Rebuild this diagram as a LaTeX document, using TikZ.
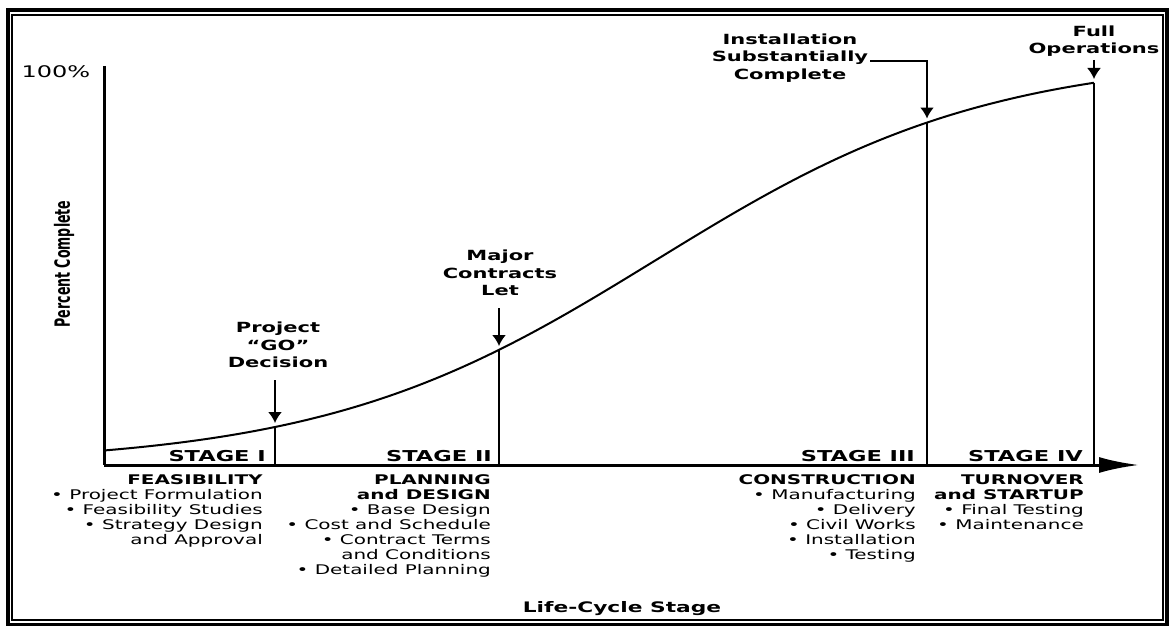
\documentclass[tikz,border=0pt]{standalone}
\usepackage{fontspec}
\setmainfont{DejaVu Sans}[FakeStretch=1.5]
\newfontfamily\condfont{DejaVu Sans}[FakeStretch=0.6]
\usetikzlibrary{arrows.meta}

\begin{document}
\begin{tikzpicture}[x=1pt,y=-1pt,
	axis/.style ={line width=3pt},
	stageline/.style ={line width=2pt},
	evarrow/.style ={line width=1.8pt, -{Latex[length=11pt,width=14pt]}, shorten >=4pt},
	stagelbl/.style ={anchor=base east, font=\bfseries\fontsize{15}{15}\selectfont, inner sep=0pt},
	desc/.style ={anchor=north east, align=right, font=\fontsize{13.3}{15}\selectfont, inner sep=0pt},
	evlbl/.style ={align=center, font=\bfseries\fontsize{14}{17.5}\selectfont, inner sep=2pt}]
		\useasboundingbox (0,0) rectangle (1170,626);
		% double frame
		\draw[line width=4pt] (8,10) rectangle (1167,624.5);
		\draw[line width=2pt] (12,15) rectangle (1163,620);
		% axes
		\coordinate (o) at (104,465);
		\coordinate (ytop) at (104,66);
		\coordinate (xend) at (1139,465);
		\draw[axis] (ytop) -- (o);
		\draw[axis,-{Latex[length=40pt,width=16pt]}] (o) -- (xend);
		\node[font=\fontsize{16}{16}\selectfont] (ymax) at (56,72) {100\%};
		\node[rotate=90, font=\condfont\bfseries\fontsize{21}{21}\selectfont] (ylbl) at (64,264) {Percent Complete};
		\node[font=\bfseries\fontsize{14.5}{17}\selectfont] (xlbl) at (622,609) {Life-Cycle Stage};
		% s-curve (logistic)
		\draw[line width=2pt] plot[domain=104:1094, samples=90, smooth] (\x, {465-410/(1+exp(-(\x-656)/167))});
		\coordinate (cGo) at (275,427);
		\coordinate (cMc) at (499,350);
		\coordinate (cIs) at (927,122.5);
		\coordinate (cFo) at (1094,83);
		% stage borders
		\draw[stageline] (cGo) -- (cGo |- o);
		\draw[stageline] (cMc) -- (cMc |- o);
		\draw[stageline] (cIs) -- (cIs |- o);
		\draw[stageline] (cFo) -- (cFo |- o);
		% milestones
		\node[evlbl] (goLbl) at (278,345) {Project\\“GO”\\Decision};
		\node[evlbl] (mcLbl) at (500,273) {Major\\Contracts\\Let};
		\node[evlbl] (isLbl) at (790,58) {Installation\\Substantially\\Complete};
		\node[evlbl] (foLbl) at (1094,41) {Full\\Operations};
		\coordinate (goTop) at (275,380);
		\coordinate (mcTop) at (499,308);
		\coordinate (foTop) at (1094,60);
		\draw[evarrow] (goTop) -- (cGo);
		\draw[evarrow] (mcTop) -- (cMc);
		\draw[evarrow] ([yshift=-3pt]isLbl.east) -| (cIs);
		\draw[evarrow] (foTop) -- (cFo);
		% stages
		\node[stagelbl] (s1) at (266,461) {STAGE I};
		\node[stagelbl] (s2) at (492,461) {STAGE II};
		\node[stagelbl] (s3) at (915,461) {STAGE III};
		\node[stagelbl] (s4) at (1083,461) {STAGE IV};
		\node[desc] (d1) at (263,474) {\textbf{FEASIBILITY}\\• Project Formulation\\• Feasibility Studies\\• Strategy Design\\and Approval};
		\node[desc] (d2) at (491,474) {\textbf{PLANNING}\\\textbf{and DESIGN}\\• Base Design\\• Cost and Schedule\\• Contract Terms\\and Conditions\\• Detailed Planning};
		\node[desc] (d3) at (916,474) {\textbf{CONSTRUCTION}\\• Manufacturing\\• Delivery\\• Civil Works\\• Installation\\• Testing};
		\node[desc] (d4) at (1084,474) {\textbf{TURNOVER}\\\textbf{and STARTUP}\\• Final Testing\\• Maintenance};
	\end{tikzpicture}
\end{document}
